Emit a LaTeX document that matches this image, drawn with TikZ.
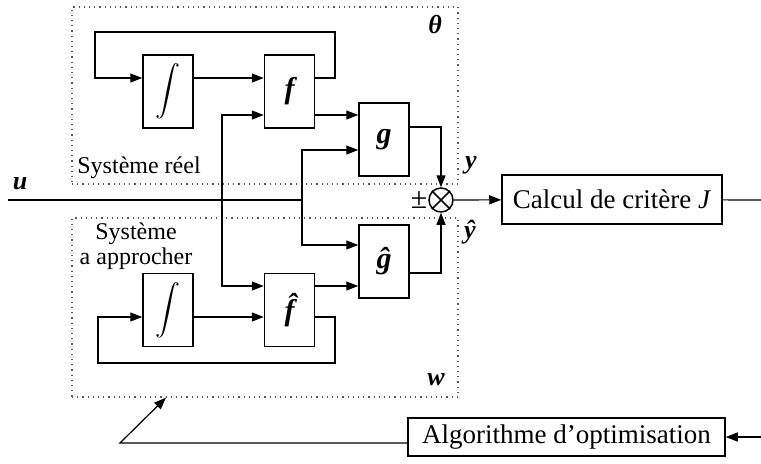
\documentclass[tikz,border=0pt]{standalone}
\usepackage{amsmath,amssymb}
\usepackage{fontspec}
\setmainfont{Liberation Serif}
\usetikzlibrary{arrows.meta,positioning}

\begin{document}
\begin{tikzpicture}[
    x=0.5pt, y=-0.5pt,
    >={Triangle[length=6pt,width=4.5pt]},
    box/.style={rectangle, draw, line width=0.75pt, minimum width=25pt, minimum height=36.5pt, inner sep=0pt},
    widebox/.style={rectangle, draw, line width=0.75pt, inner sep=0pt, font=\fontsize{13.5}{16}\selectfont},
    sysbox/.style={rectangle, draw=black!65, dotted, line width=0.6pt, minimum width=193pt, inner sep=0pt},
    var/.style={font=\fontsize{13}{15}\selectfont\bfseries\itshape, inner sep=0pt},
    txt/.style={font=\fontsize{12}{12.5}\selectfont, inner sep=0pt},
    arrow/.style={->, line width=0.6pt},
    line/.style={line width=0.6pt}
]
\useasboundingbox (0,0) rectangle (761,463);

% dotted frames
\node[sysbox, minimum height=88.5pt] (reel) at (265,95.5) {};
\node[sysbox, minimum height=89.5pt] (approx) at (265,307.5) {};

% real system
\node[box] (int1) at (168,91.5) {\fontsize{12.5}{12.5}\selectfont$\displaystyle\int$};
\node[box, right=35pt of int1, font=\fontsize{15}{15}\selectfont\bfseries\itshape] (f1) {f};
\node[box, font=\fontsize{15}{15}\selectfont\bfseries\itshape] (g1) at (384,139.5) {g};

% model
\node[box] (int2) at (168,310) {\fontsize{12.5}{12.5}\selectfont$\displaystyle\int$};
\node[box, right=35pt of int2, font=\fontsize{15}{15}\selectfont\bfseries\itshape] (f2) {f̂};
\node[box, font=\fontsize{15}{15}\selectfont\bfseries\itshape] (g2) at (384,261.5) {ĝ};

% comparison and criterion
\node[circle, draw, line width=0.75pt, minimum size=12pt, inner sep=0pt] (sum) at (441,200) {};
\draw[line width=0.75pt] (sum.north west) -- (sum.south east) (sum.north east) -- (sum.south west);
\node[widebox, minimum width=110pt, minimum height=24.5pt] (crit) at (612,199.5) {Calcul de critère \textit{J}};
\node[widebox, minimum width=158.5pt, minimum height=19pt] (algo) at (566.5,437) {Algorithme d’optimisation};

\coordinate (uin) at (8,200);
\coordinate (ua) at (222,200);
\coordinate (ub) at (302,200);
\coordinate (rout) at (761,200);
\coordinate (rin) at (761,437);
\coordinate (bend) at (120,443);

% labels
\node[txt, anchor=west] (lreel) at (77,168) {Système réel};
\node[txt, align=center] (lapprox) at (136,246) {Système\\a approcher};
\node[var] (ltheta) at (435,25) {θ};
\node[var] (lw) at (436,380) {w};
\node[var] (ly) at (471,165) {y};
\node[var] (lyhat) at (470,232) {ŷ};
\node[txt, font=\fontsize{15}{15}\selectfont] (lpm) at (419,200) {±};
\node[var] (lu) at (20,184) {u};

% connections
\draw[line] (uin) -- (ub);
\draw[arrow] (f1.east |- 0,78) -- (335,78) -- (335,32) -- (95,32) |- (int1.west |- 0,78);
\draw[arrow] (int1.east |- 0,78) -- (f1.west |- 0,78);
\draw[arrow] (ua) |- (f1.west |- 0,115);
\draw[arrow] (f1.east |- 0,115) -- (g1.west |- 0,115);
\draw[arrow] (ub) |- (g1.west |- 0,150);
\draw[arrow] (g1.east |- 0,127) -| (sum.north);
\draw[arrow] (ub) |- (g2.west |- 0,245);
\draw[arrow] (ua) |- (f2.west |- 0,286);
\draw[arrow] (f2.east |- 0,286) -- (g2.west |- 0,286);
\draw[arrow] (g2.east |- 0,273) -| (sum.south);
\draw[arrow] (int2.east |- 0,317) -- (f2.west |- 0,317);
\draw[arrow] (f2.east |- 0,317) -- (335,317) -- (335,363) -- (98,363) |- (int2.west |- 0,317);
\draw[arrow] (sum) -- (crit);
\draw[line] (crit) -- (rout);
\draw[arrow] (rin) -- (algo);
\draw[arrow] (algo.west |- bend) -- (bend) -- (approx.south -| 166,0);
\end{tikzpicture}
\end{document}
